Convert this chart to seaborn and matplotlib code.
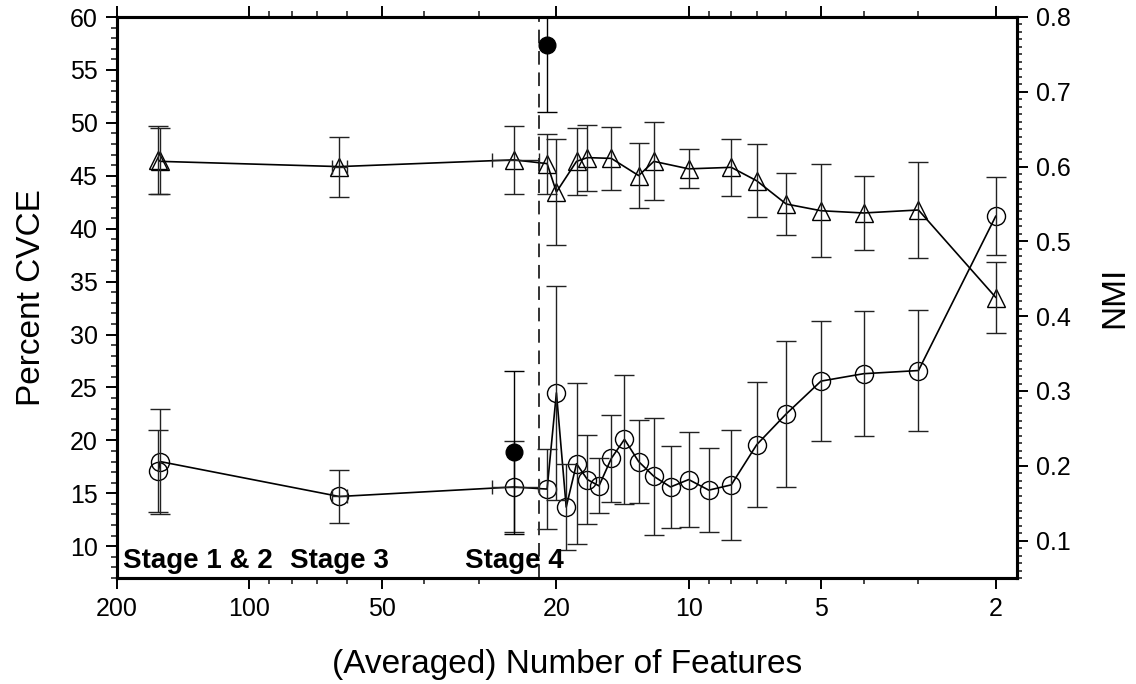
import numpy as np
import matplotlib
matplotlib.use("Agg")
import matplotlib.pyplot as plt
import seaborn as sns
from matplotlib.ticker import FixedLocator, FuncFormatter, MultipleLocator, NullFormatter

# ---------------- data ----------------
# CVCE (open circles, left axis)
circ_x = [161, 159.5, 62.4, 25, 21, 20, 19, 18, 17, 16, 15, 14, 13, 12, 11, 10, 9, 8, 7, 6, 5, 4, 3, 2]
circ_y = [17.1, 18.0, 14.7, 15.6, 15.4, 24.5, 13.7, 17.8, 16.3, 15.7, 18.3, 20.1, 18.0, 16.6,
          15.6, 16.3, 15.3, 15.8, 19.6, 22.5, 25.6, 26.3, 26.6, 41.2]
circ_err = [3.85, 5.0, 2.5, 4.3, 3.8, 10.1, 4.1, 7.6, 4.2, 2.6, 4.1, 6.1, 3.95, 5.5,
            3.9, 4.5, 4.0, 5.2, 5.9, 6.9, 5.65, 5.9, 5.7, 3.7]
circ_xerr = [0, 0, 2.5, 3.1] + [0] * 20

# NMI (open triangles, right axis)
tri_x = [161, 159.5, 62.4, 25, 21, 20, 18, 17, 15, 13, 12, 10, 8, 7, 6, 5, 4, 3, 2]
tri_y = [0.609, 0.607, 0.600, 0.609, 0.604, 0.566, 0.607, 0.612, 0.611, 0.588, 0.607,
         0.597, 0.599, 0.581, 0.550, 0.541, 0.538, 0.542, 0.425]
tri_err = [0.045, 0.044, 0.040, 0.045, 0.040, 0.071, 0.045, 0.044, 0.042, 0.043, 0.052,
           0.026, 0.038, 0.049, 0.042, 0.062, 0.050, 0.064, 0.048]
tri_xerr = [0, 0, 2.5, 3.1] + [0] * 15

# filled circles (left axis)
fill_x = [25, 21]
fill_y = [18.9, 57.4]
fill_err = [7.7, 6.4]

stage_split = 21.9
stage_labels = ["Stage 1 & 2", "Stage 3", "Stage 4"]
stage_pos = [193.5, 80.7, 32.3]

x_major = [200, 100, 50, 20, 10, 5, 2]
x_minor = [90, 80, 70, 60, 40, 30, 9, 8, 7, 6, 4, 3]

# ---------------- style ----------------
sns.set_theme(style="ticks")
plt.rcParams["font.family"] = ["Liberation Sans", "DejaVu Sans"]
plt.rcParams["axes.linewidth"] = 2.2
plt.rcParams["text.color"] = "black"
plt.rcParams["axes.labelcolor"] = "black"

fig = plt.figure(figsize=(11.36, 6.84), dpi=100)
ax = fig.add_axes([117 / 1136, 1 - 578 / 684, 900 / 1136, 561 / 684])
ax.set_xscale("log")
ax2 = ax.twinx()
ax2.set_xscale("log")

# circles
sns.lineplot(x=circ_x, y=circ_y, ax=ax, sort=False, estimator=None, color="black",
             linewidth=1.2, marker="o", markersize=13, markerfacecolor="none",
             markeredgecolor="black", markeredgewidth=1.0)
ax.errorbar(circ_x, circ_y, yerr=circ_err, fmt="none", ecolor="#222222",
            elinewidth=1.0, capsize=7, capthick=1.0)
cx = np.array(circ_x, float); cxe = np.array(circ_xerr, float); cy = np.array(circ_y, float)
m = cxe > 0
ax.errorbar(cx[m], cy[m], xerr=cxe[m], fmt="none", ecolor="#222222",
            elinewidth=1.0, capsize=5, capthick=1.0)

# filled circles
ax.errorbar(fill_x, fill_y, yerr=fill_err, fmt="o", color="black", markersize=12,
            ecolor="black", elinewidth=1.0, capsize=7, capthick=1.0)

# triangles
sns.lineplot(x=tri_x, y=tri_y, ax=ax2, sort=False, estimator=None, color="black",
             linewidth=1.2, marker="^", markersize=13, markerfacecolor="none",
             markeredgecolor="black", markeredgewidth=1.0)
ax2.errorbar(tri_x, tri_y, yerr=tri_err, fmt="none", ecolor="#222222",
             elinewidth=1.0, capsize=7, capthick=1.0)
tx = np.array(tri_x, float); txe = np.array(tri_xerr, float); ty = np.array(tri_y, float)
m2 = txe > 0
ax2.errorbar(tx[m2], ty[m2], xerr=txe[m2], fmt="none", ecolor="#222222",
             elinewidth=1.0, capsize=5, capthick=1.0)

# stage separator
ax.axvline(stage_split, color="#333333", linewidth=1.4, linestyle=(0, (7, 4)))

for lab, xp in zip(stage_labels, stage_pos):
    ax.text(xp, 7.9, lab, fontsize=20, fontweight="bold", ha="left", va="baseline",
            color="black")

# axes limits / ticks
ax.set_xlim(200, 1.79)
ax2.set_xlim(200, 1.79)
ax.set_ylim(7, 60)
ax2.set_ylim(0.05, 0.8)

ax.xaxis.set_major_locator(FixedLocator(x_major))
ax.xaxis.set_major_formatter(FuncFormatter(lambda v, p: f"{v:g}"))
ax.xaxis.set_minor_locator(FixedLocator(x_minor))
ax.xaxis.set_minor_formatter(NullFormatter())
ax.xaxis.set_ticks_position("both")

ax.yaxis.set_major_locator(MultipleLocator(5))
ax.yaxis.set_minor_locator(MultipleLocator(1))
ax.yaxis.set_ticks_position("left")
ax2.yaxis.set_major_locator(MultipleLocator(0.1))
ax2.yaxis.set_minor_locator(MultipleLocator(0.01))
ax2.yaxis.set_major_formatter(FuncFormatter(lambda v, p: f"{v:.1f}"))

for a in (ax, ax2):
    a.tick_params(which="major", direction="out", length=8, width=1.4, labelsize=18,
                  colors="black", pad=6)
    a.tick_params(which="minor", direction="out", length=4.5, width=1.2)
    for s in a.spines.values():
        s.set_linewidth(2.2)
        s.set_color("black")
ax2.tick_params(which="minor", length=3.5)

ax.set_xlabel("(Averaged) Number of Features", fontsize=24, labelpad=20, color="black")
ax.set_ylabel("Percent CVCE", fontsize=24, labelpad=16, color="black")
ax2.set_ylabel("NMI", fontsize=24, labelpad=20, rotation=90, color="black")

fig.savefig("out.png", dpi=100)
